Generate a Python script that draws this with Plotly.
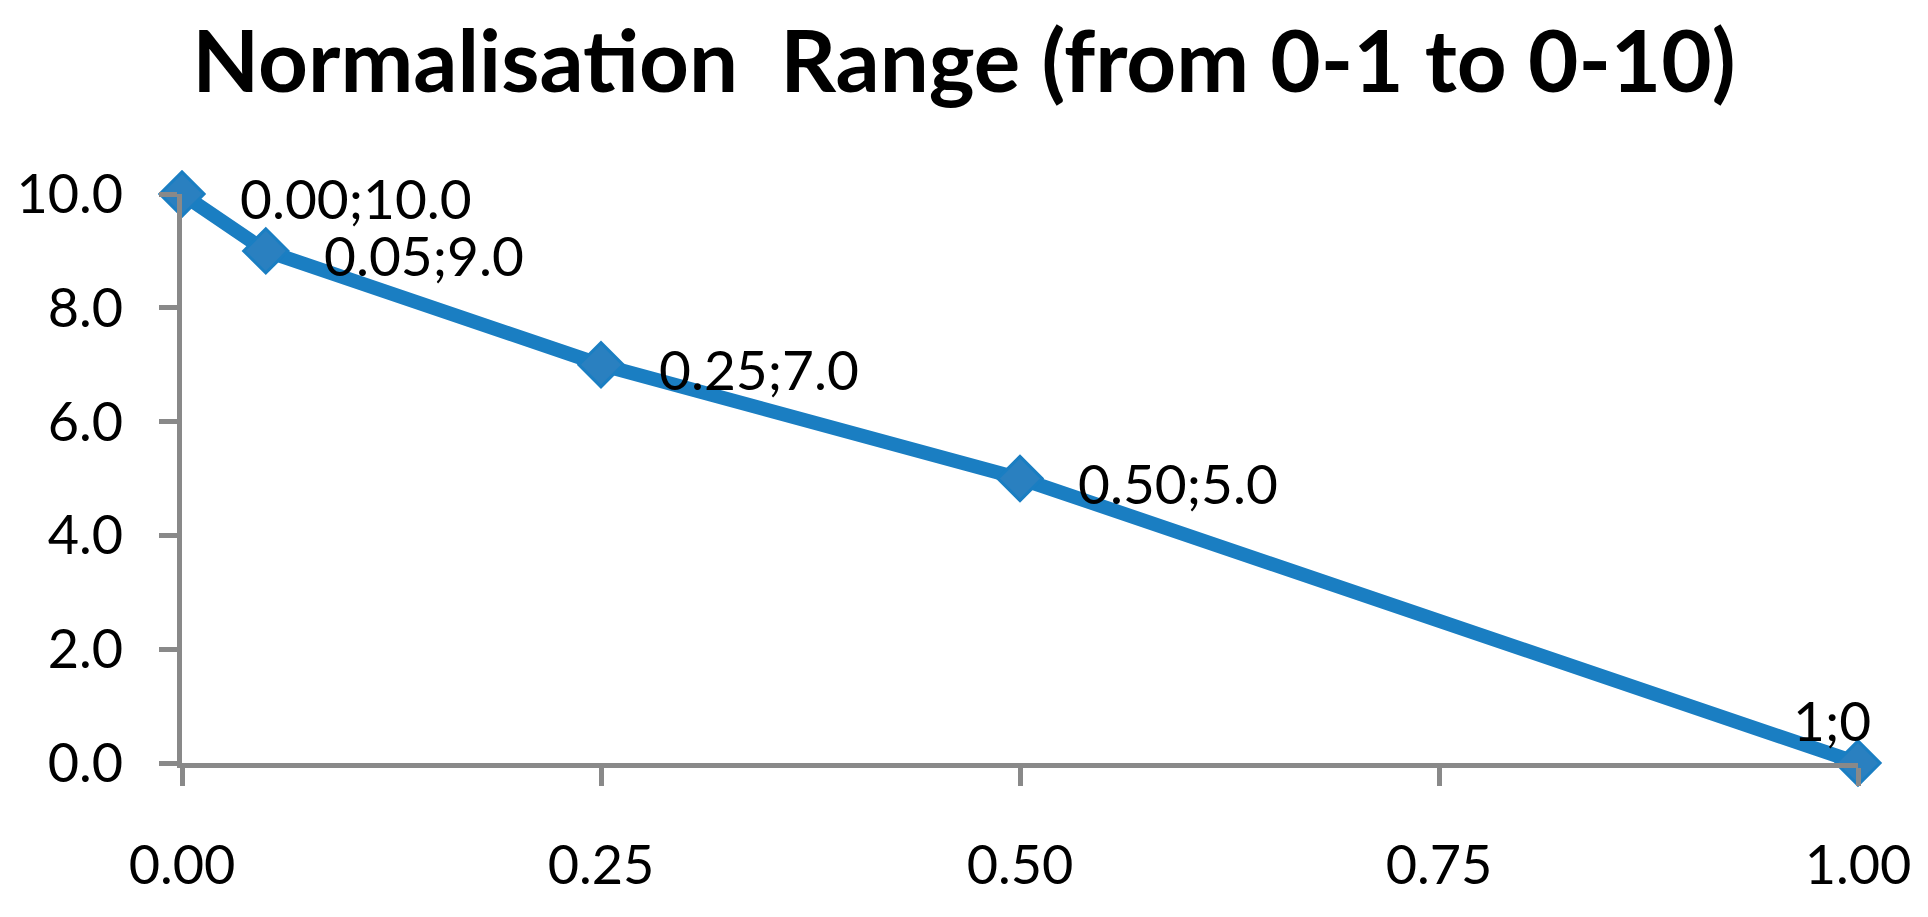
import plotly.graph_objects as go

# Data
x_vals = [0.00, 0.05, 0.25, 0.50, 1.00]
y_vals = [10.0, 9.0, 7.0, 5.0, 0.0]
point_labels = ["0.00;10.0", "0.05;9.0", "0.25;7.0", "0.50;5.0", "1;0"]
x_tick_vals = [0.00, 0.25, 0.50, 0.75, 1.00]
x_tick_text = ["0.00", "0.25", "0.50", "0.75", "1.00"]
y_tick_vals = [0, 2, 4, 6, 8, 10]
y_tick_text = ["0.0", "2.0", "4.0", "6.0", "8.0", "10.0"]
title_text = "Normalisation  Range (from 0-1 to 0-10)"

W, H = 1928, 917
OFF = 8  # default page body margin
LINE_BLUE = "#1a7ec2"
MARKER_FILL = "#2a80c0"
AXIS_GREY = "#898989"
FONT = "Lato"

fig = go.Figure()
fig.add_trace(go.Scatter(
    x=x_vals, y=y_vals,
    mode="lines+markers",
    line=dict(color=LINE_BLUE, width=14),
    marker=dict(symbol="diamond", size=34, color=MARKER_FILL,
                line=dict(color=LINE_BLUE, width=3)),
    cliponaxis=False,
    showlegend=False,
    hoverinfo="skip",
))

# data label placement (style only)
label_style = [
    dict(xanchor="left", yanchor="middle", xshift=56, yshift=-4),
    dict(xanchor="left", yanchor="middle", xshift=56, yshift=-4),
    dict(xanchor="left", yanchor="middle", xshift=56, yshift=-4),
    dict(xanchor="left", yanchor="middle", xshift=56, yshift=-4),
    dict(xanchor="center", yanchor="middle", xshift=-26, yshift=43),
]
annotations = []
for xv, yv, txt, st in zip(x_vals, y_vals, point_labels, label_style):
    annotations.append(dict(
        x=xv, y=yv, xref="x", yref="y", text=txt, showarrow=False,
        font=dict(family=FONT, size=55, color="black"), **st))

fig.update_layout(
    width=W, height=H,
    paper_bgcolor="white", plot_bgcolor="white",
    margin=dict(l=182 - OFF, r=70 + OFF, t=194 - OFF, b=154 + OFF, autoexpand=False),
    title=dict(text=title_text, x=(964 - OFF) / W, xanchor="center", xref="container",
               y=1 - (62 - OFF) / H, yanchor="middle", yref="container",
               font=dict(family=FONT, size=87, color="black", weight="bold")),
    annotations=annotations,
    showlegend=False,
)

fig.update_xaxes(
    range=[0, 1], tickmode="array", tickvals=x_tick_vals, ticktext=x_tick_text,
    showgrid=False, zeroline=False, showline=True, linecolor=AXIS_GREY, linewidth=5,
    ticks="outside", ticklen=18, tickwidth=5, tickcolor=AXIS_GREY,
    ticklabelstandoff=33,
    tickfont=dict(family=FONT, size=54, color="black"),
)
fig.update_yaxes(
    range=[0, 10], tickmode="array", tickvals=y_tick_vals, ticktext=y_tick_text,
    showgrid=False, zeroline=False, showline=True, linecolor=AXIS_GREY, linewidth=5,
    ticks="outside", ticklen=18, tickwidth=5, tickcolor=AXIS_GREY,
    ticklabelstandoff=25,
    tickfont=dict(family=FONT, size=54, color="black"),
)

fig.write_html("out.html")
